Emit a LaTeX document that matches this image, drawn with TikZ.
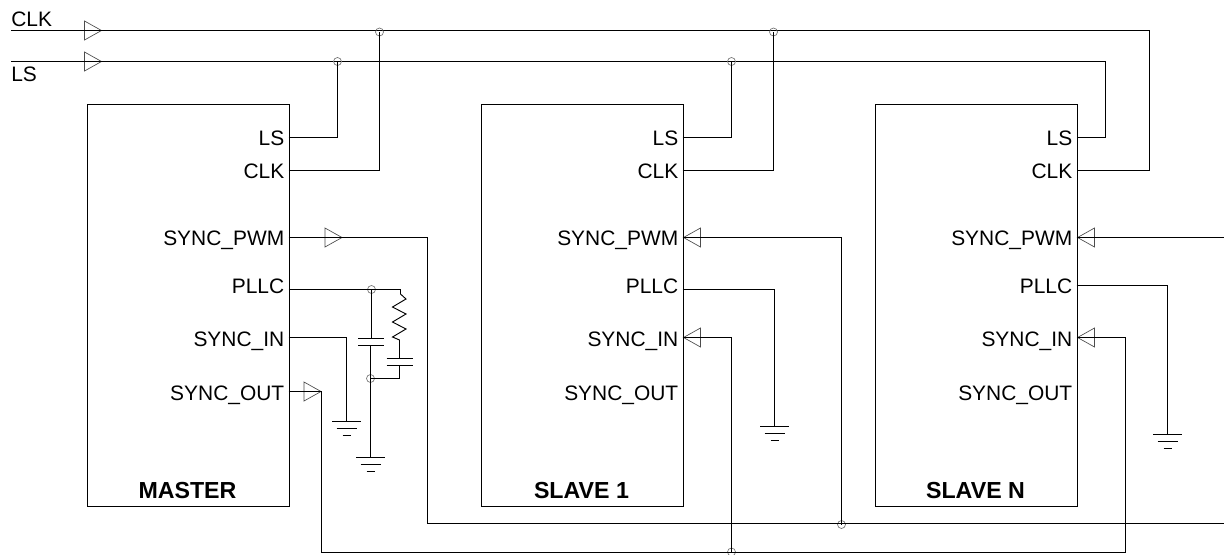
\documentclass[tikz,border=0pt]{standalone}
\usepackage{fontspec}
\setmainfont{Liberation Sans}
\tikzset{
    wire/.style={line width=1pt, black},
    block/.style={draw, line width=1pt, anchor=north west, inner sep=0pt,
        minimum width=151.5pt, minimum height=301.5pt},
    pinlabel/.style={anchor=base east, inner sep=0pt,
        font=\fontsize{15.7}{18}\selectfont},
    netlabel/.style={anchor=base west, inner sep=0pt,
        font=\fontsize{15.7}{18}\selectfont},
    title/.style={anchor=base, inner sep=0pt,
        font=\fontsize{17.4}{20}\selectfont\bfseries},
    junc/.style={circle, draw=black!55, line width=0.5pt, inner sep=0pt,
        minimum size=6pt},
    pics/bufright/.style={code={
        \draw[black!70, line width=0.5pt] (0,-9.5) -- (17,0) -- (0,9.5) -- cycle;}},
    pics/bufleft/.style={code={
        \draw[black!70, line width=0.5pt] (0,-9.5) -- (-17,0) -- (0,9.5) -- cycle;}},
    pics/gnd/.style={code={
        \draw[wire] (-14.5,0) -- (14.5,0);
        \draw[wire] (-10,7) -- (10,7);
        \draw[wire] (-4,14) -- (4,14);}},
}
\begin{document}
\begin{tikzpicture}[x=0.75pt, y=-0.75pt]
    \useasboundingbox (0,0) rectangle (1224,554);

    % the three blocks with their pins and labels
    \foreach \name/\x/\title/\pllcy in {master/86.5/MASTER/289.5, slaveA/480.5/SLAVE 1/289.5, slaveN/874.5/SLAVE N/285.5}{
        \node[block] (\name) at (\x,103.5) {};
        \node[title] (\name-title) at (\x+101,498) {\title};
        \coordinate (\name-pllc) at (\x+202,\pllcy);
        \foreach \pin/\text/\py/\base in {ls/LS/137.5/145.5, clk/CLK/170.5/178, pwm/SYNC\_PWM/237.5/245,
            in/SYNC\_IN/337.5/346.5, out/SYNC\_OUT/391.5/400}{
            \coordinate (\name-\pin) at (\x+202,\py);
            \node[pinlabel] (\name-\pin-label) at (\x+198,\base) {\text};
        }
        \node[pinlabel] (\name-pllc-label) at (\x+198,293) {PLLC};
    }

    % the CLK and LS inputs
    \coordinate (clkIn) at (11,30.5);
    \coordinate (lsIn) at (11,61.5);
    \node[netlabel] (clkLabel) at (11,26) {CLK};
    \node[netlabel] (lsLabel) at (11,81.5) {LS};
    \pic at (84.5,30.5) {bufright};
    \pic at (84.5,61.5) {bufright};

    % the two buses, ending on Slave N
    \coordinate (clkEnd) at (1149.5,170.5);
    \coordinate (lsEnd) at (1105.5,137.5);
    \draw[wire] (clkIn) -| (clkEnd) -- (slaveN-clk);
    \draw[wire] (lsIn) -| (lsEnd) -- (slaveN-ls);

    % the taps from the buses to Master and Slave 1
    \node[junc] (jLsM) at (337.5,61.5) {};
    \node[junc] (jClkM) at (379.5,32) {};
    \node[junc] (jLsA) at (731.5,61.5) {};
    \node[junc] (jClkA) at (773.5,32) {};
    \draw[wire] (master-ls) -| (jLsM.center);
    \draw[wire] (master-clk) -| (jClkM.center);
    \draw[wire] (slaveA-ls) -| (jLsA.center);
    \draw[wire] (slaveA-clk) -| (jClkA.center);

    % SYNC_PWM net
    \coordinate (pwmTurn) at (427.5,523.5);
    \coordinate (pwmOut) at (1224,523.5);
    \coordinate (pwmRight) at (1224,237.5);
    \node[junc] (jPwm) at (841.5,524.5) {};
    \pic at (325,237.5) {bufright};
    \pic at (700.5,237.5) {bufleft};
    \pic at (1094.5,237.5) {bufleft};
    \draw[wire] (master-pwm) -| (pwmTurn) -- (pwmOut);
    \draw[wire] (slaveA-pwm) -| (jPwm.center);
    \draw[wire] (slaveN-pwm) -- (pwmRight);

    % SYNC_OUT net
    \coordinate (syncTurn) at (321.5,552.5);
    \coordinate (syncEnd) at (1125.5,552.5);
    \node[junc] (jSync) at (731.5,552) {};
    \pic at (304,391.5) {bufright};
    \pic at (700.5,337.5) {bufleft};
    \pic at (1094.5,337.5) {bufleft};
    \draw[wire] (master-out) -| (syncTurn) -- (syncEnd) -- (syncEnd |- slaveN-in) -- (slaveN-in);
    \draw[wire] (slaveA-in) -| (jSync.center);

    % the grounds
    \coordinate (gndIn) at (346.5,421.5);
    \coordinate (gndCap) at (370.5,457.5);
    \coordinate (gndA) at (774.5,426.5);
    \coordinate (gndN) at (1167.5,434.5);
    \pic at (gndIn) {gnd};
    \pic at (gndCap) {gnd};
    \pic at (gndA) {gnd};
    \pic at (gndN) {gnd};
    \draw[wire] (master-in) -| (gndIn);
    \draw[wire] (slaveA-pllc) -| (gndA);
    \draw[wire] (slaveN-pllc) -| (gndN);

    % the loop filter on PLLC of Master
    \coordinate (resTop) at (400.5,289.5);
    \coordinate (capBTop) at (399.5,358.5);
    \coordinate (capBEnd) at (399.5,378.5);
    \node[junc] (jPllc) at (371.5,289.5) {};
    \node[junc] (jCap) at (370.5,378.5) {};
    \draw[wire] (master-pllc) -- (resTop);
    % the resistor
    \draw[line width=0.7pt] (resTop) -- (400.5,294) -- (406,299) -- (392.5,307) -- (406,314) -- (392.5,322)
        -- (406,329) -- (392.5,337) -- (399.5,340) -- (capBTop);
    % the first capacitor
    \draw[wire] (jPllc.center) -- (371.5,338.5);
    \draw[wire] (358,338.5) -- (384,338.5);
    \draw[wire] (358,345.5) -- (384,345.5);
    \draw[wire] (370.5,345.5) -- (gndCap);
    % the second capacitor
    \draw[wire] (386.5,358.5) -- (412.5,358.5);
    \draw[wire] (386.5,365.5) -- (412.5,365.5);
    \draw[wire] (399.5,365.5) -- (capBEnd) -- (jCap.center);
\end{tikzpicture}
\end{document}
